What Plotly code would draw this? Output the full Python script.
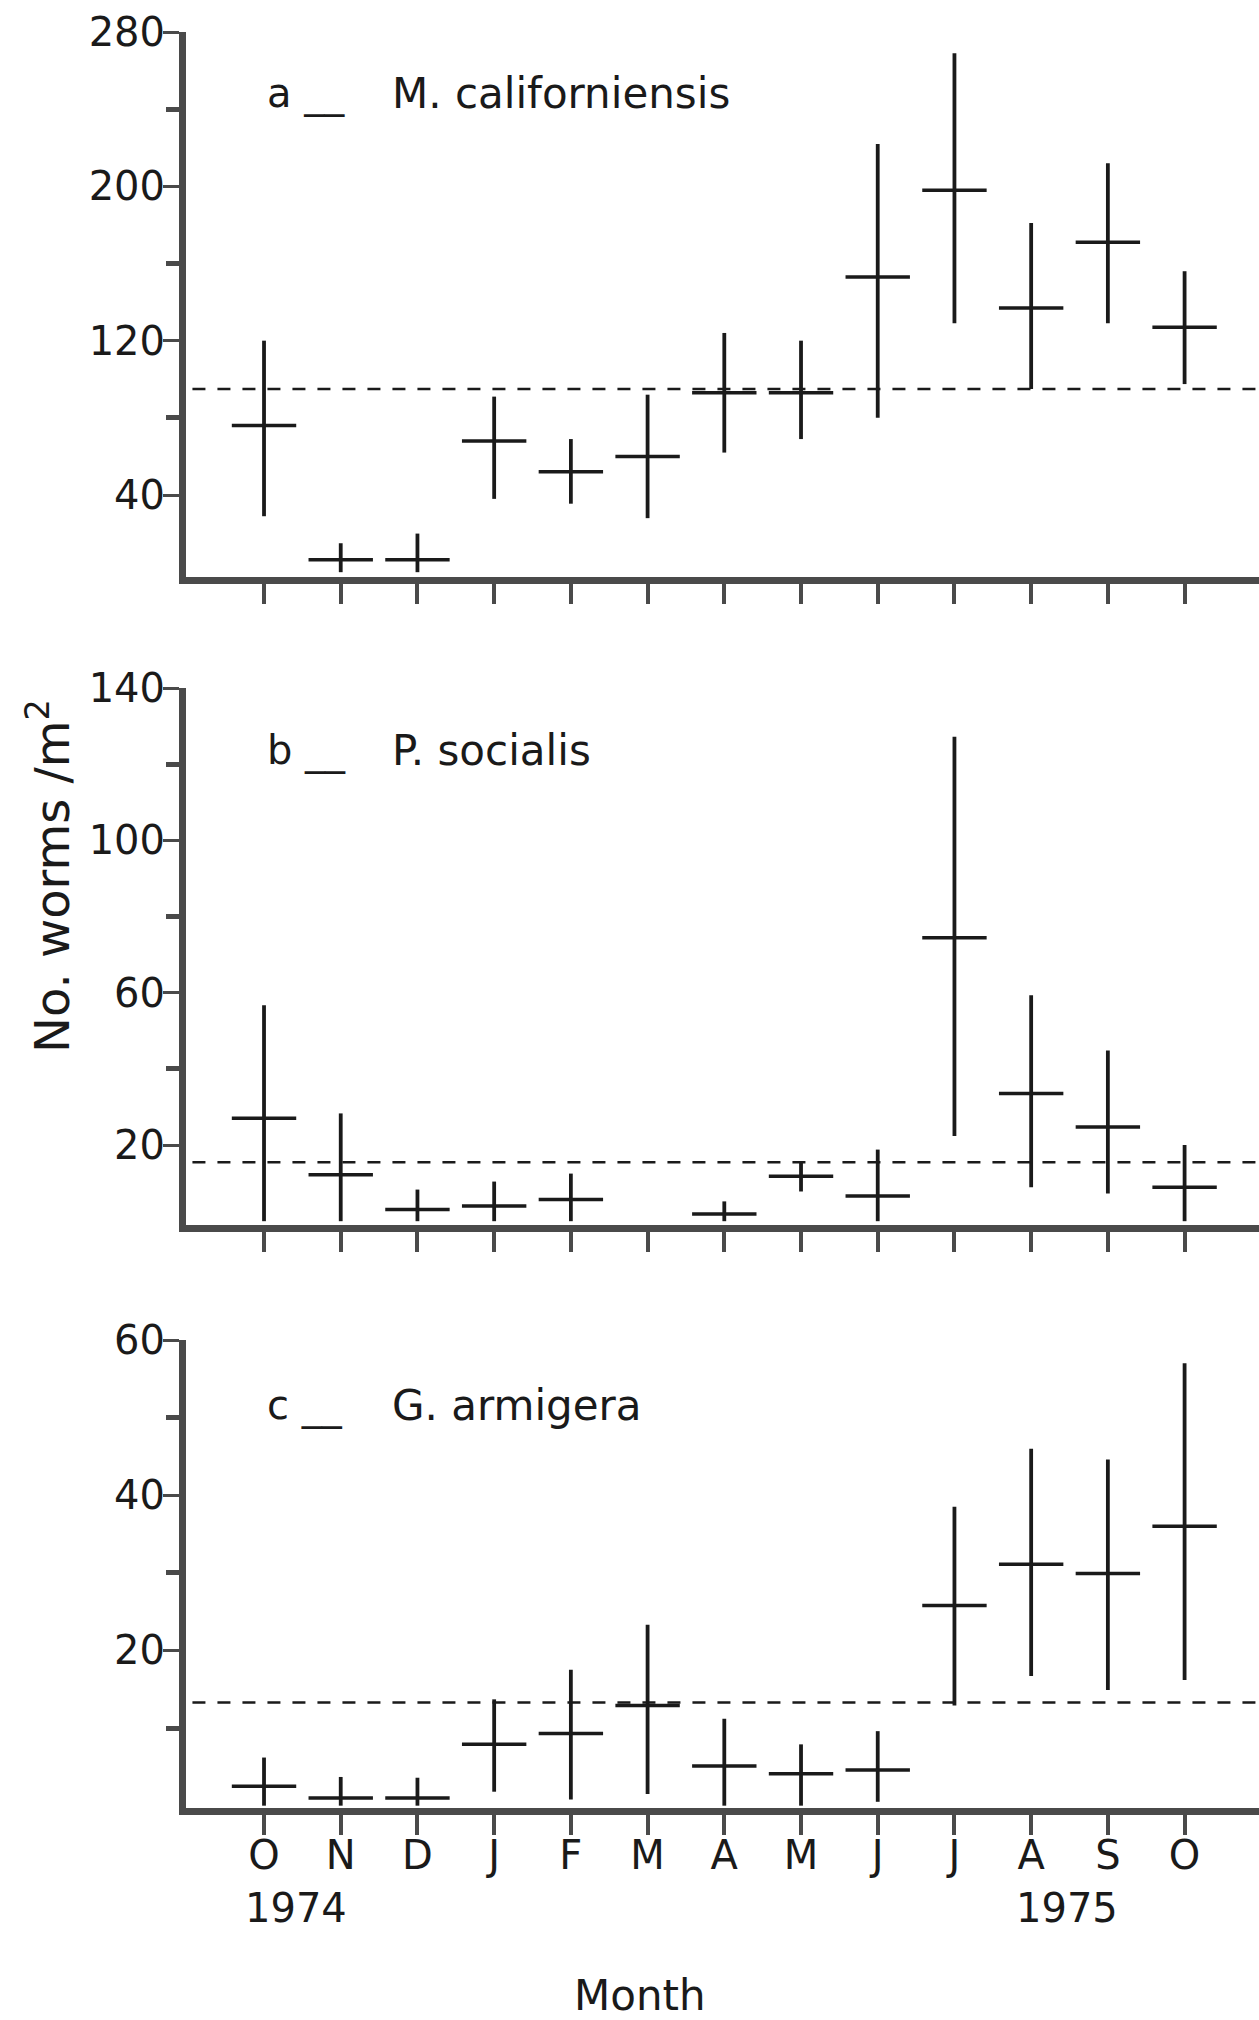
import plotly.graph_objects as go

# Monthly sampling, Oct 1974 - Oct 1975
months = ["O", "N", "D", "J", "F", "M", "A", "M", "J", "J", "A", "S", "O"]

# a - M. californiensis: mean, lower and upper limits (worms / m2)
cal_mean = [76, 6.5, 6.5, 68, 52, 60, 93, 93, 153, 198, 137, 171, 127]
cal_low = [29, 0, 0, 38, 35.5, 28, 62, 69, 80, 129, 95, 129, 97.5]
cal_high = [120, 15, 20, 91, 69, 92, 124, 120, 222, 269, 181, 212, 156]
cal_overall = 95

# b - P. socialis (no animals recorded in March)
soc_mean = [27, 12.2, 3.1, 4.0, 5.7, None, 1.9, 11.8, 6.6, 74.4, 33.5, 24.7, 8.9]
soc_low = [0, 0, 0, 0, 0, None, 0, 7.8, 0, 22.4, 8.9, 7.3, 0]
soc_high = [56.7, 28.3, 8.3, 10.4, 12.5, None, 5.2, 15.6, 18.8, 127.2, 59.3, 44.8, 20]
soc_overall = 15.5

# c - G. armigera
arm_mean = [2.5, 1.0, 1.0, 7.9, 9.3, 12.9, 5.1, 4.1, 4.6, 25.8, 31.1, 29.9, 36.0]
arm_low = [0, 0, 0, 1.8, 0.8, 1.5, 0, 0, 0.5, 12.9, 16.7, 14.9, 16.2]
arm_high = [6.2, 3.7, 3.6, 13.7, 17.5, 23.3, 11.2, 7.9, 9.6, 38.5, 46.0, 44.6, 57.0]
arm_overall = 13.3

panel_letters = ["a", "b", "c"]
species = ["M. californiensis", "P. socialis", "G. armigera"]
years = ["1974", "1975"]

y_major = [[40, 120, 200, 280], [20, 60, 100, 140], [20, 40, 60]]
y_minor = [[80, 160, 240], [40, 80, 120], [10, 30, 50]]
y_ranges = [[-2.5, 280], [-1, 140], [-0.3, 60]]

W, H = 1259, 2020
FONT = "DejaVu Sans"
AXIS = "#4a4a4a"
INK = "#1a1a1a"


def py(pix):
    """Convert a pixel row to paper coordinates."""
    return 1 - pix / H


y_domains = [[py(577), py(32)], [py(1225), py(688)], [py(1808), py(1340)]]
x_domain = [186 / W, 1]
x_range = [-1.017, 12.97]

series = [
    (cal_mean, cal_low, cal_high, cal_overall),
    (soc_mean, soc_low, soc_high, soc_overall),
    (arm_mean, arm_low, arm_high, arm_overall),
]

fig = go.Figure()
idx = list(range(len(months)))

for k, (mean, low, high, overall) in enumerate(series):
    sfx = "" if k == 0 else str(k + 1)
    up = [None if m is None else h - m for m, h in zip(mean, high)]
    dn = [None if m is None else m - l for m, l in zip(mean, low)]
    fig.add_trace(go.Scatter(
        x=idx, y=mean, mode="markers",
        xaxis="x" + sfx, yaxis="y" + sfx,
        marker=dict(symbol="line-ew", size=46, color=INK,
                    line=dict(width=3.5, color=INK)),
        error_y=dict(type="data", symmetric=False, array=up, arrayminus=dn,
                     width=0, thickness=3.8, color=INK),
        showlegend=False, hoverinfo="skip",
    ))
    # overall mean across the sampling period
    fig.add_shape(type="line", xref="x" + sfx + " domain", yref="y" + sfx,
                  x0=0.006, x1=1, y0=overall, y1=overall,
                  line=dict(color=INK, width=2.5, dash="13px,12px"))

    xa = dict(domain=x_domain, range=x_range, anchor="y" + sfx, automargin=False,
              showline=True, linewidth=7, linecolor=AXIS,
              ticks="outside", ticklen=20, tickwidth=4, tickcolor=AXIS,
              tickmode="array", tickvals=idx, showgrid=False, zeroline=False,
              showticklabels=(k == 2), ticktext=months, ticklabelstandoff=-14,
              tickfont=dict(family=FONT, size=40, color=INK))
    ya = dict(domain=y_domains[k], range=y_ranges[k], anchor="x" + sfx, automargin=False,
              showline=True, linewidth=7, linecolor=AXIS,
              ticks="outside", ticklen=16, tickwidth=3, tickcolor=AXIS,
              tickmode="array", tickvals=y_major[k], ticklabelstandoff=-10,
              minor=dict(tickmode="array", tickvals=y_minor[k], ticks="outside",
                         ticklen=13, tickwidth=5, tickcolor=AXIS),
              showgrid=False, zeroline=False,
              tickfont=dict(family=FONT, size=40, color=INK))
    fig.layout["xaxis" + sfx] = xa
    fig.layout["yaxis" + sfx] = ya

# panel headings
title_rows = [93, 750, 1405]
for k in range(3):
    fig.add_annotation(text=panel_letters[k] + " __", xref="paper", yref="paper",
                       x=265 / W, y=py(title_rows[k]), xanchor="left", yanchor="middle",
                       showarrow=False, font=dict(family=FONT, size=40, color=INK))
    fig.add_annotation(text=species[k], xref="paper", yref="paper",
                       x=390 / W, y=py(title_rows[k]), xanchor="left", yanchor="middle",
                       showarrow=False, font=dict(family=FONT, size=42, color=INK))

# years under the month labels
for yr, xpos in zip(years, [0.42, 10.47]):
    fig.add_annotation(text=yr, xref="x3", yref="paper", x=xpos, y=py(1908),
                       xanchor="center", yanchor="middle", showarrow=False,
                       font=dict(family=FONT, size=40, color=INK))

fig.add_annotation(text="Month", xref="paper", yref="paper", x=640 / W, y=py(1995),
                   xanchor="center", yanchor="middle", showarrow=False,
                   font=dict(family=FONT, size=42, color=INK))
fig.add_annotation(text="No. worms /m<sup>2</sup>", xref="paper", yref="paper",
                   x=49 / W, y=py(876), xanchor="center", yanchor="middle",
                   textangle=-90, showarrow=False,
                   font=dict(family=FONT, size=48, color=INK))

fig.update_layout(width=W, height=H, margin=dict(l=0, r=0, t=0, b=0, autoexpand=False),
                  paper_bgcolor="white", plot_bgcolor="white")

fig.write_html("out.html")
